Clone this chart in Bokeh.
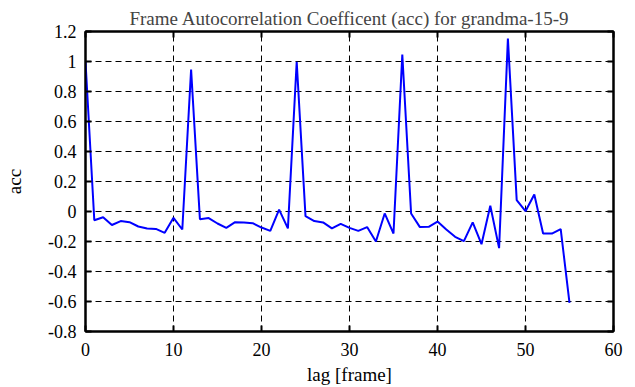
from bokeh.plotting import figure
from bokeh.models import LinearAxis, FixedTicker, Range1d
from bokeh.embed import file_html
from bokeh.resources import INLINE

# ---- data ----
lags = list(range(56))
acc = [1.0, -0.058, -0.038, -0.09, -0.064, -0.071, -0.10, -0.113, -0.116, -0.142,
       -0.042, -0.12, 0.947, -0.051, -0.044, -0.08, -0.109, -0.071, -0.073, -0.078,
       -0.107, -0.129, 0.013, -0.113, 0.998, -0.031, -0.064, -0.073, -0.113, -0.082,
       -0.109, -0.129, -0.104, -0.20, -0.013, -0.147, 1.047, -0.013, -0.104, -0.102,
       -0.067, -0.12, -0.169, -0.198, -0.073, -0.218, 0.038, -0.244, 1.153, 0.076,
       0.002, 0.113, -0.147, -0.147, -0.118, -0.609]
x_ticks = [0, 10, 20, 30, 40, 50, 60]
y_ticks = [-0.8, -0.6, -0.4, -0.2, 0, 0.2, 0.4, 0.6, 0.8, 1, 1.2]
y_tick_labels = ["-0.8", "-0.6", "-0.4", "-0.2", "0", "0.2", "0.4", "0.6", "0.8", "1", "1.2"]
title_text = "Frame Autocorrelation Coefficent (acc) for grandma-15-9"
x_label = "lag [frame]"
y_label = "acc"

FONT = "Liberation Serif"
TICK_FS = "18px"
LABEL_FS = "19px"

p = figure(width=635, height=387, output_backend="svg", toolbar_location=None,
           x_range=Range1d(0, 60), y_range=Range1d(-0.8, 1.2),
           min_border_left=85, min_border_right=22, min_border_top=31, min_border_bottom=56,
           x_axis_label=x_label, y_axis_label=y_label)

p.title.text = title_text
p.title.text_font = FONT
p.title.text_font_size = LABEL_FS
p.title.text_font_style = "normal"
p.title.align = "center"
p.title.standoff = 6
p.title.offset = 0

p.line(lags, acc, line_color="#0000ff", line_width=2)

p.outline_line_color = "black"
p.outline_line_width = 2
p.background_fill_color = "white"
p.border_fill_color = "white"

for ax in p.xaxis:
    ax.ticker = FixedTicker(ticks=x_ticks)
for ax in p.yaxis:
    ax.ticker = FixedTicker(ticks=y_ticks)
    ax.major_label_overrides = dict(zip(y_ticks, y_tick_labels))

for ax in list(p.xaxis) + list(p.yaxis):
    ax.major_tick_in = 6
    ax.major_tick_out = 0
    ax.minor_tick_in = 0
    ax.minor_tick_out = 0
    ax.axis_line_width = 2
    ax.major_tick_line_width = 2
    ax.axis_line_color = "black"
    ax.major_label_text_font = FONT
    ax.major_label_text_font_size = TICK_FS
    ax.major_label_text_color = "black"
    ax.axis_label_text_font = FONT
    ax.axis_label_text_font_size = LABEL_FS
    ax.axis_label_text_font_style = "normal"
    ax.axis_label_text_color = "black"

p.xaxis.major_label_standoff = 11
p.xaxis.axis_label_standoff = 5
p.yaxis.major_label_standoff = 9
p.yaxis.axis_label_standoff = 20

# mirrored ticks on top and right (no labels)
top = LinearAxis(ticker=FixedTicker(ticks=x_ticks),
                 major_label_overrides={t: "" for t in x_ticks},
                 major_label_standoff=0, major_tick_in=6, major_tick_out=0,
                 minor_tick_in=0, minor_tick_out=0, axis_line_width=2, major_tick_line_width=2)
right = LinearAxis(ticker=FixedTicker(ticks=y_ticks),
                   major_label_overrides={t: "" for t in y_ticks},
                   major_label_standoff=0, major_tick_in=6, major_tick_out=0,
                   minor_tick_in=0, minor_tick_out=0, axis_line_width=2, major_tick_line_width=2)
p.add_layout(top, "above")
p.add_layout(right, "right")

for g in [p.xgrid, p.ygrid]:
    g.grid_line_color = "black"
    g.grid_line_dash = "6 4"
    g.grid_line_width = 1
p.xgrid.ticker = FixedTicker(ticks=x_ticks)
p.ygrid.ticker = FixedTicker(ticks=y_ticks)

open("out.html", "w").write(file_html(p, INLINE))
